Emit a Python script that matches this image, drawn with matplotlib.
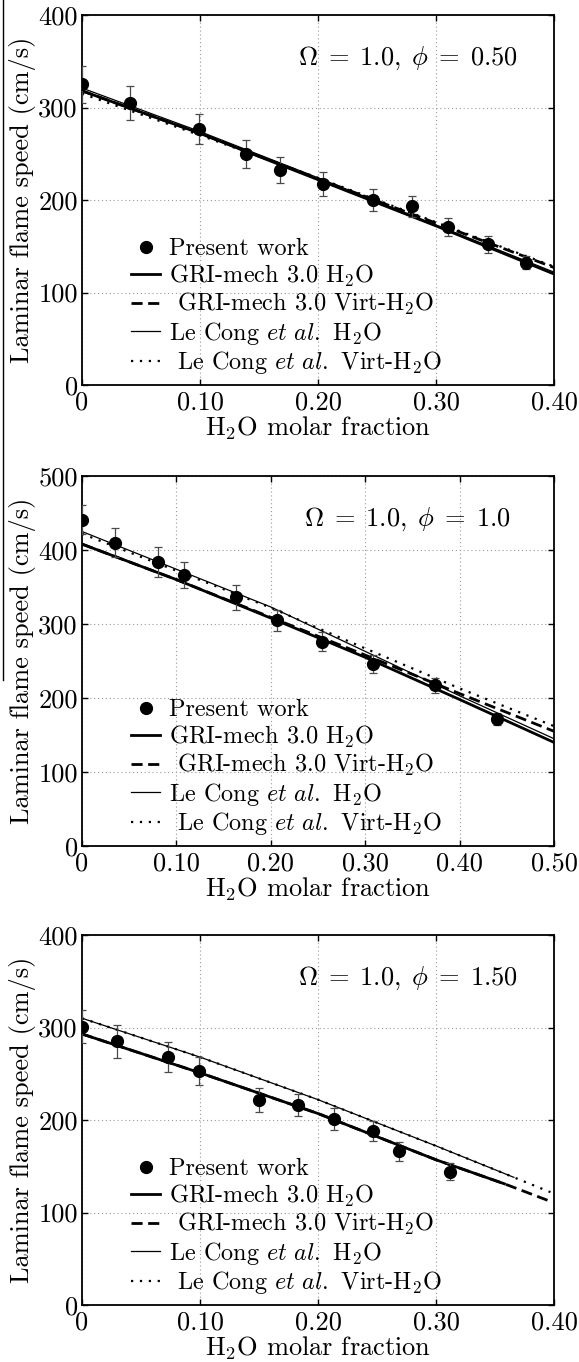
import matplotlib
matplotlib.use("Agg")
import matplotlib.pyplot as plt
from matplotlib.lines import Line2D

plt.rcParams['font.family'] = 'serif'
plt.rcParams['font.serif'] = ['cmr10']
plt.rcParams['mathtext.fontset'] = 'cm'
plt.rcParams['axes.formatter.use_mathtext'] = True

# ---------------- data ----------------
# Panel 1: Omega = 1.0, phi = 0.50
p1_exp_x = [0.0, 0.041, 0.099, 0.139, 0.168, 0.204, 0.247, 0.2795, 0.310, 0.344, 0.3765]
p1_exp_y = [325, 305, 277, 250, 232, 217, 200, 193, 171, 152, 132]
p1_exp_err = [20, 18, 16, 15, 14, 13, 12, 11, 10, 9, 7]
p1_gri_x = [0.0, 0.1, 0.2, 0.3, 0.4]
p1_gri_h2o = [318, 272, 222, 172, 120]
p1_gri_virt_x = [0.0, 0.1, 0.2, 0.3, 0.4]
p1_gri_virt = [318, 272, 223, 175, 127]
p1_lc_x = [0.0, 0.1, 0.2, 0.3, 0.4]
p1_lc_h2o = [321, 274, 224, 173, 122]
p1_lc_virt_x = [0.0, 0.1, 0.2, 0.3, 0.4]
p1_lc_virt = [315, 270, 224, 176, 128]

# Panel 2: Omega = 1.0, phi = 1.0
p2_exp_x = [0.0, 0.035, 0.080, 0.1085, 0.163, 0.207, 0.254, 0.308, 0.374, 0.4395]
p2_exp_y = [441, 410, 384, 366, 336, 305, 276, 246, 217, 172]
p2_exp_err = [20, 20, 20, 18, 17, 14, 13, 12, 10, 8]
p2_gri_x = [0.0, 0.1, 0.2, 0.3, 0.4, 0.5]
p2_gri_h2o = [408, 360, 308, 255, 198, 140]
p2_gri_virt_x = [0.0, 0.1, 0.2, 0.3, 0.4, 0.5]
p2_gri_virt = [408, 360, 309, 258, 206, 155]
p2_lc_x = [0.0, 0.1, 0.2, 0.3, 0.4, 0.5]
p2_lc_h2o = [425, 374, 323, 263, 203, 145]
p2_lc_virt_x = [0.0, 0.1, 0.2, 0.3, 0.4, 0.5]
p2_lc_virt = [422, 372, 322, 267, 213, 162]

# Panel 3: Omega = 1.0, phi = 1.50
p3_exp_x = [0.0, 0.030, 0.073, 0.099, 0.150, 0.183, 0.2135, 0.247, 0.2685, 0.312]
p3_exp_y = [301, 285, 268, 253, 222, 216, 201, 188, 166, 144]
p3_exp_err = [18, 18, 16, 15, 13, 12, 12, 11, 10, 9]
p3_gri_x = [0.0, 0.1, 0.2, 0.3, 0.358]
p3_gri_h2o = [293, 251, 207, 157, 131]
p3_gri_virt_x = [0.0, 0.1, 0.2, 0.3, 0.358, 0.397]
p3_gri_virt = [293, 251, 207, 157, 131, 112]
p3_lc_x = [0.0, 0.1, 0.2, 0.3, 0.366]
p3_lc_h2o = [310, 268, 222, 172, 138]
p3_lc_virt_x = [0.0, 0.1, 0.2, 0.3, 0.366, 0.397]
p3_lc_virt = [310, 268, 222, 172, 138, 122]

titles = [r'$\Omega \;=\; 1.0,\; \phi \;=\; 0.50$', r'$\Omega \;=\; 1.0,\; \phi \;=\; 1.0$',
          r'$\Omega \;=\; 1.0,\; \phi \;=\; 1.50$']
xticks_1 = [0.0, 0.1, 0.2, 0.3, 0.4]
xticklabels_1 = ['0', '0.10', '0.20', '0.30', '0.40']
xticks_2 = [0.0, 0.1, 0.2, 0.3, 0.4, 0.5]
xticklabels_2 = ['0', '0.10', '0.20', '0.30', '0.40', '0.50']
yticks_1 = [0, 100, 200, 300, 400]
yticks_2 = [0, 100, 200, 300, 400, 500]

labels = ['Present work', r'GRI-mech 3.0 H$_2$O', r' GRI-mech 3.0 Virt-H$_2$O',
          r'Le Cong $\mathit{et\ al.}$ H$_2$O', r' Le Cong $\mathit{et\ al.}$ Virt-H$_2$O']

panels = [
    dict(ex=p1_exp_x, ey=p1_exp_y, ee=p1_exp_err,
         gx=p1_gri_x, gy=p1_gri_h2o, gvx=p1_gri_virt_x, gvy=p1_gri_virt,
         lx=p1_lc_x, ly=p1_lc_h2o, lvx=p1_lc_virt_x, lvy=p1_lc_virt,
         xt=xticks_1, xtl=xticklabels_1, yt=yticks_1, title=titles[0]),
    dict(ex=p2_exp_x, ey=p2_exp_y, ee=p2_exp_err,
         gx=p2_gri_x, gy=p2_gri_h2o, gvx=p2_gri_virt_x, gvy=p2_gri_virt,
         lx=p2_lc_x, ly=p2_lc_h2o, lvx=p2_lc_virt_x, lvy=p2_lc_virt,
         xt=xticks_2, xtl=xticklabels_2, yt=yticks_2, title=titles[1]),
    dict(ex=p3_exp_x, ey=p3_exp_y, ee=p3_exp_err,
         gx=p3_gri_x, gy=p3_gri_h2o, gvx=p3_gri_virt_x, gvy=p3_gri_virt,
         lx=p3_lc_x, ly=p3_lc_h2o, lvx=p3_lc_virt_x, lvy=p3_lc_virt,
         xt=xticks_1, xtl=xticklabels_1, yt=yticks_1, title=titles[2]),
]

W, H = 579, 1362
fig = plt.figure(figsize=(W / 100, H / 100), dpi=100)
fig.patch.set_facecolor('white')

ax_left = 82
ax_w = 472
ax_h = 370
tops = [15, 476, 935]
FS_TICK = 19
FS_LAB = 19
FS_LEG = 17.5

for p, top in zip(panels, tops):
    ax = fig.add_axes([ax_left / W, 1 - (top + ax_h) / H, ax_w / W, ax_h / H])
    h_lc, = ax.plot(p['lx'], p['ly'], color='black', lw=0.9, zorder=3)
    h_lcv, = ax.plot(p['lvx'], p['lvy'], color='black', lw=1.6,
                     linestyle=(0, (1, 3)), zorder=3)
    h_gri, = ax.plot(p['gx'], p['gy'], color='black', lw=2.0, zorder=3)
    h_griv, = ax.plot(p['gvx'], p['gvy'], color='black', lw=2.0,
                      linestyle=(0, (4, 2)), zorder=3)
    ax.errorbar(p['ex'], p['ey'], yerr=p['ee'], fmt='none', ecolor='#4a4a4a',
                elinewidth=0.9, capsize=3, capthick=0.9, zorder=4)
    h_exp, = ax.plot(p['ex'], p['ey'], 'o', color='black', ms=8.5, zorder=5,
                     linestyle='none')

    xmax = p['xt'][-1]
    ymax = p['yt'][-1]
    ax.set_xlim(0, xmax)
    ax.set_ylim(0, ymax)
    ax.set_xticks(p['xt'])
    ax.set_xticklabels(p['xtl'])
    ax.set_yticks(p['yt'])
    ax.set_yticklabels([str(v) for v in p['yt']])
    ax.tick_params(direction='in', length=4, width=1, top=True, right=True,
                   labelsize=FS_TICK, pad=4)
    ax.tick_params(axis='y', pad=3)
    ax.grid(True, linestyle=(0, (1, 2.5)), color='#9a9a9a', lw=0.8)
    for s in ax.spines.values():
        s.set_linewidth(1.3)
        s.set_color('black')
    ax.set_xlabel(r'H$_2$O molar fraction', fontsize=FS_LAB, labelpad=0)
    ax.set_ylabel('Laminar flame speed (cm/s)', fontsize=FS_LAB, labelpad=2)
    ax.text(0.69, 0.882, p['title'], transform=ax.transAxes, fontsize=19,
            ha='center', va='center')
    ax.legend([h_exp, h_gri, h_griv, h_lc, h_lcv], labels,
              loc='center left', bbox_to_anchor=(0.104, 0.21),
              frameon=False, fontsize=FS_LEG, handlelength=1.2,
              handletextpad=0.35, labelspacing=0.1, borderpad=0,
              borderaxespad=0, numpoints=1)

# scan artifact: vertical line at the left page edge
fig.add_artist(Line2D([3 / W, 3 / W], [1, 1 - 680 / H], color='black', lw=1.0))

fig.savefig('out.png', dpi=100)
